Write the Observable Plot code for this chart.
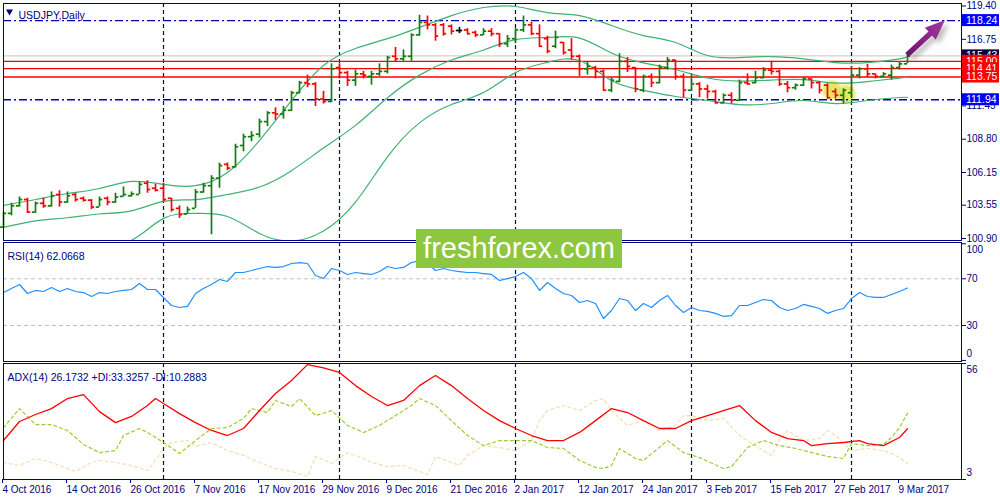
<!DOCTYPE html>
<html><head><meta charset="utf-8">
<script src="https://cdn.jsdelivr.net/npm/d3@7"></script>
<script src="https://cdn.jsdelivr.net/npm/@observablehq/plot@0.6"></script>
<style>
html,body{margin:0;padding:0;background:#fff;}
#wrap{position:relative;width:1000px;height:500px;overflow:hidden;background:#fff;}
#wrap > svg{position:absolute;left:0;}
#wm{position:absolute;left:416px;top:229px;width:206px;height:39px;background:#8dc63f;color:#fff;font:29px "Liberation Sans",Arial,sans-serif;line-height:39px;text-align:center;}
</style></head><body><div id="wrap"></div><script>
// ---------------- data ----------------
const tickIdx = [0,8,16,24,32,40,48,56,64,72,80,88,96,104,112];
const tickLabels = ["4 Oct 2016","14 Oct 2016","26 Oct 2016","7 Nov 2016","17 Nov 2016","29 Nov 2016","9 Dec 2016","21 Dec 2016","2 Jan 2017","12 Jan 2017","24 Jan 2017","3 Feb 2017","15 Feb 2017","27 Feb 2017","9 Mar 2017"];
const monthStartIdx = [20,42,64,86,106];

const opens  = [101.8,102.9,103.5,104.0,103.0,103.7,103.5,104.4,103.8,104.4,104.1,103.95,103.4,104.1,103.8,104.25,104.3,104.4,105.3,104.9,104.9,104.1,103.3,102.85,103.3,104.6,105.1,105.7,106.8,106.6,108.3,109.0,109.2,110.2,110.9,110.8,111.1,112.5,113.3,113.2,112.0,111.8,114.5,114.1,113.5,114.0,113.8,114.0,114.2,115.4,115.2,115.4,117.1,118.1,117.9,117.9,117.8,117.45,117.5,117.3,117.1,117.4,117.2,116.4,116.8,117.5,117.9,117.2,116.8,116.2,116.5,115.9,115.4,114.4,114.5,114.2,112.7,113.4,115.0,114.5,112.7,113.8,113.3,114.5,115.1,113.8,112.7,113.2,112.8,112.6,111.7,112.3,111.9,113.3,113.3,113.7,114.3,114.2,113.2,112.9,113.1,113.6,113.3,113.1,112.6,112.3,112.5,113.9,114.4,114.0,113.8,113.9,114.5,114.8];
const highs  = [103.0,103.7,104.2,104.1,103.8,104.1,104.6,104.7,104.6,104.5,104.2,104.0,104.2,104.2,104.5,105.0,104.6,105.4,105.5,105.2,105.3,104.1,103.5,103.4,104.8,105.3,105.9,106.9,106.9,108.4,109.2,109.4,110.4,111.0,111.3,111.4,112.6,113.4,113.9,113.3,112.6,114.8,114.8,114.2,114.3,114.2,114.2,114.8,115.4,116.1,115.9,117.2,118.66,118.6,118.0,118.0,117.9,117.7,117.6,117.4,117.6,117.6,117.2,117.05,117.6,118.6,118.1,117.9,117.0,117.4,116.5,116.8,115.5,115.0,114.6,114.3,113.7,115.6,115.3,114.5,113.9,114.0,114.7,115.3,115.1,114.0,113.9,113.3,113.1,112.7,112.4,112.5,113.5,114.0,114.2,114.5,115.0,114.3,113.4,113.2,113.7,113.6,113.4,113.2,112.8,112.8,114.6,114.5,114.75,114.0,114.1,114.7,114.9,115.5];
const lows   = [101.7,102.7,103.4,102.9,102.9,103.3,103.4,103.4,103.7,103.8,103.8,103.2,103.4,103.5,103.7,104.2,104.2,104.4,104.5,104.6,103.8,103.0,102.5,102.85,103.3,104.5,101.2,104.9,106.3,106.5,107.8,108.6,108.9,109.8,110.3,110.4,111.0,112.4,112.9,111.4,111.6,111.7,113.6,113.0,113.0,113.6,113.1,113.8,114.0,114.9,115.0,115.0,117.0,117.5,116.6,117.0,117.1,117.2,117.1,116.9,117.05,116.95,116.1,116.1,116.4,117.3,117.05,116.1,115.6,116.0,115.5,115.1,113.8,113.9,113.6,112.6,112.5,113.3,114.1,112.5,112.5,112.9,113.2,114.3,113.5,112.1,112.6,112.1,112.0,111.6,111.6,111.6,111.8,113.1,113.2,113.6,113.9,113.0,112.5,112.7,113.0,112.8,112.4,112.0,112.0,111.6,112.1,113.6,113.7,113.6,113.7,113.5,114.3,114.8];
const closes = [102.9,103.5,104.0,103.0,103.7,103.5,104.3,103.8,104.3,104.0,103.95,103.4,104.0,103.8,104.2,104.4,104.45,105.2,104.8,104.75,104.0,103.2,102.8,103.2,104.6,105.1,105.7,106.7,106.5,108.2,109.0,109.1,110.2,110.9,110.8,111.1,112.5,113.3,113.2,112.0,111.8,114.4,114.1,113.5,114.0,113.9,114.0,114.2,115.3,115.2,115.4,117.1,118.1,117.9,117.0,117.2,117.4,117.45,117.2,117.1,117.4,117.2,116.4,116.8,117.5,117.9,117.2,116.2,115.8,116.9,115.7,115.4,114.4,114.6,114.2,112.7,113.5,115.0,114.6,112.8,113.8,113.3,114.5,115.1,113.8,112.7,113.2,112.8,112.6,111.7,112.3,111.9,113.3,113.2,113.7,114.3,114.2,113.2,112.9,113.1,113.6,113.3,112.7,112.1,112.3,112.7,113.9,114.4,114.0,113.8,114.0,114.5,114.8,115.4];

const bbIdx    = [0,4,8,12,16,20,24,28,32,36,40,44,48,52,56,60,64,68,72,76,80,84,88,92,96,100,104,108,112,113];
const bbUpper  = [103.53,104.0,104.48,104.88,105.44,105.2,105.1,106.15,108.7,111.88,114.67,116.02,116.8,117.7,118.64,119.28,119.36,118.88,118.64,117.85,117.05,116.5,115.46,115.3,115.38,115.2,114.9,114.9,115.2,115.38];
const bbMiddle = [101.78,102.3,102.55,102.85,103.1,103.85,104.0,104.4,105.0,106.3,108.1,109.9,112.1,113.9,115.1,115.9,116.73,116.9,116.85,115.66,114.87,114.35,113.67,113.43,113.51,113.54,113.27,113.39,113.66,113.75];
const bbLower  = [100.03,100.3,100.4,100.5,100.76,102.5,102.9,102.65,101.3,100.7,101.5,103.8,107.4,110.1,111.56,112.52,114.1,114.92,115.06,113.47,112.68,112.2,111.88,111.56,111.64,111.88,111.64,111.88,112.12,112.12];

const rsi = [58.2,61.7,65.1,57.4,60.0,59.1,62.5,59.1,61.7,59.1,58.2,54.8,58.2,57.4,59.1,60.0,60.8,66.0,60.8,60.8,54.0,47.1,45.4,46.3,57.4,61.7,65.1,69.4,67.7,75.4,75.4,77.1,78.8,80.5,79.7,80.5,83.1,83.9,83.1,72.8,70.2,78.8,77.1,73.7,75.4,74.5,73.7,76.2,80.5,78.8,79.7,83.9,85.7,83.1,77.1,78.8,77.1,76.2,75.4,75.4,74.5,73.7,68.5,70.2,71.9,75.4,70.2,60.0,66.8,61.7,57.4,55.7,49.7,51.4,48.8,36.0,42.8,53.1,51.4,42.8,48.8,45.4,51.4,55.7,47.1,41.1,45.4,42.8,42.0,40.3,37.7,38.5,47.1,47.1,49.7,52.2,51.4,45.4,42.8,44.5,48.0,46.3,44.5,40.3,42.8,44.5,53.1,58.2,54.8,54.0,54.0,56.5,59.1,62.07];

const adx = [[0,20.8],[2,29.5],[4,32.7],[6,35.4],[8,40.0],[10,41.8],[12,34.0],[14,29.0],[16,31.8],[18,36.8],[19,40.0],[20,37.7],[22,33.1],[24,29.0],[26,25.4],[28,23.1],[30,26.3],[32,34.5],[34,42.3],[36,48.2],[38,55.5],[40,54.0],[42,51.9],[44,45.9],[46,40.9],[48,36.8],[50,39.1],[52,45.9],[54,50.5],[56,45.9],[58,40.0],[60,34.5],[62,29.9],[64,26.3],[66,23.1],[68,20.8],[70,20.8],[72,24.5],[74,29.9],[76,35.4],[78,33.6],[80,29.9],[82,26.3],[84,26.3],[86,29.9],[88,32.2],[90,34.5],[92,36.8],[94,29.9],[96,24.5],[98,21.7],[100,20.8],[101,18.5],[103,19.4],[105,19.9],[107,20.8],[108,19.4],[110,18.5],[112,22.2],[113,26.17]];
const plusDI = [[0,26.7],[2,35.4],[4,28.1],[6,28.1],[8,25.4],[10,19.0],[12,15.3],[14,16.2],[15,23.1],[17,26.3],[18,24.5],[20,19.9],[22,14.9],[24,20.8],[26,26.3],[28,26.7],[30,30.9],[31,35.4],[33,33.6],[34,39.1],[36,36.3],[37,40.0],[39,32.2],[41,34.5],[43,27.7],[45,24.5],[47,27.7],[49,32.2],[51,36.8],[52,40.0],[54,36.8],[56,29.9],[58,23.1],[60,18.5],[62,20.8],[64,20.8],[66,20.8],[68,17.6],[70,17.2],[72,11.7],[74,8.5],[75,8.0],[76,9.4],[77,17.2],[79,12.6],[80,11.7],[83,20.8],[85,15.3],[87,13.0],[90,8.0],[91,8.9],[93,17.6],[95,20.8],[97,18.5],[99,17.2],[103,13.5],[105,12.6],[106,19.4],[108,18.5],[110,19.0],[111,22.2],[112,26.7],[113,33.33]];
const minusDI = [[0,10.8],[2,9.4],[4,12.6],[6,10.8],[8,8.0],[9,6.7],[11,10.8],[12,11.7],[14,10.8],[16,9.4],[18,7.1],[19,11.7],[20,17.2],[21,19.9],[23,20.8],[24,18.1],[26,19.9],[28,16.2],[30,14.0],[32,10.8],[34,8.0],[36,6.7],[38,4.4],[39,13.5],[41,10.3],[43,15.3],[45,12.6],[46,10.8],[48,8.9],[50,9.4],[53,5.3],[54,13.5],[57,9.4],[58,14.0],[60,18.5],[62,17.6],[64,16.2],[66,20.8],[67,29.9],[68,34.5],[70,36.8],[72,34.5],[74,39.1],[75,40.0],[76,34.5],[78,27.7],[80,29.9],[82,25.4],[84,27.7],[85,32.2],[86,32.2],[88,29.9],[90,30.9],[92,23.1],[94,18.5],[96,14.0],[97,20.8],[98,25.4],[100,20.8],[102,21.7],[103,25.4],[104,23.1],[106,16.2],[108,17.2],[110,16.2],[111,14.9],[112,13.0],[113,10.29]];

const priceTicks = [119.40,116.75,114.10,111.45,108.80,106.15,103.55,100.90];
const redLevels = [115.00,114.41,113.75];
const blueLevels = [118.24,111.94];
const greyLevel = 115.43;
const priceBoxes = [
  {v:115.43, bg:"#000040"},
  {v:115.00, bg:"#ff0000"},
  {v:114.41, bg:"#ff0000"},
  {v:113.75, bg:"#ff0000"},
  {v:118.24, bg:"#0000ff"},
  {v:111.94, bg:"#0000ff"}
];
const titleMain = "USDJPY,Daily";
const titleRSI = "RSI(14) 62.0668";
const titleADX = "ADX(14) 26.1732 +DI:33.3257 -DI:10.2883";
const watermark = "freshforex.com";
// annotations (bar index, price)
const arrowTail = [113.0, 115.46];
const arrowTip  = [117.75, 118.25];
const glows = [[103.6, 112.68],[105.4, 112.36]];

// ---------------- drawing ----------------
const NAVY = "#000080";
const FONT = '"Liberation Sans", Arial, sans-serif';
const UP = "#0f7f0f", DN = "#ff0000";
const xOpt = {domain:[0,119.75], axis:null};
const baseStyle = {background:"transparent", color:NAVY, fontFamily:FONT, fontSize:"10px", overflow:"visible"};

const bars = opens.map((o,i)=>({i, o, h:highs[i], l:lows[i], c:closes[i]}));
const barCol = d => d.c > d.o ? UP : d.c < d.o ? DN : "#000000";
const bb = bbIdx.map((i,k)=>({i, up:bbUpper[k], mid:bbMiddle[k], lo:bbLower[k]}));
const rsiRows = rsi.map((v,i)=>({i, v}));
const toRows = a => a.map(([i,v])=>({i,v}));

const wrap = document.getElementById("wrap");

const main = Plot.plot({
  width:1000, height:242, marginLeft:3, marginRight:39, marginTop:3, marginBottom:2,
  x:xOpt, y:{domain:[100.74,119.60], axis:null},
  style:baseStyle,
  marks:[
    Plot.ruleY([greyLevel], {stroke:"#c8c8c8", strokeWidth:1}),
    Plot.ruleX(monthStartIdx, {stroke:NAVY, strokeDasharray:"4,3", strokeWidth:1.2}),
    Plot.ruleY(blueLevels, {stroke:"#0000b0", strokeDasharray:"8,3,2,3", strokeWidth:1.3}),
    Plot.ruleY(redLevels, {stroke:"#ff0000", strokeWidth:1.3}),
    Plot.line(bb, {x:"i", y:"up", stroke:"#3cb371", strokeWidth:1.2, curve:"natural", clip:true}),
    Plot.line(bb, {x:"i", y:"mid", stroke:"#3cb371", strokeWidth:1.2, curve:"natural", clip:true}),
    Plot.line(bb, {x:"i", y:"lo", stroke:"#3cb371", strokeWidth:1.2, curve:"natural", clip:true}),
    Plot.ruleX(bars, {x:"i", y1:"l", y2:"h", stroke:barCol, strokeWidth:1.7}),
    Plot.ruleY(bars, {x1:d=>d.i-0.4, x2:"i", y:"o", stroke:barCol, strokeWidth:1.7}),
    Plot.ruleY(bars, {x1:"i", x2:d=>d.i+0.4, y:"c", stroke:barCol, strokeWidth:1.7}),
    Plot.frame({stroke:NAVY}),
    Plot.axisY({anchor:"right", label:null, ticks:priceTicks, tickFormat:d=>d.toFixed(2), tickSize:4, tickPadding:1, fill:NAVY, stroke:NAVY}),
    Plot.text([titleMain], {frameAnchor:"top-left", dx:15, dy:8, textAnchor:"start", fill:NAVY, fontSize:10.5}),
    Plot.dot([0], {frameAnchor:"top-left", dx:6, dy:8, symbol:"triangle", rotate:180, r:2.6, fill:NAVY, stroke:null})
  ]
});
main.style.top = "0px";
wrap.appendChild(main);

const rsiPlot = Plot.plot({
  width:1000, height:121, marginLeft:3, marginRight:39, marginTop:1, marginBottom:1,
  x:xOpt, y:{domain:[-0.9,101.1], axis:null},
  style:baseStyle,
  marks:[
    Plot.ruleY([70,30], {stroke:"#c0c0c0", strokeDasharray:"4,3"}),
    Plot.ruleX(monthStartIdx, {stroke:NAVY, strokeDasharray:"4,3", strokeWidth:1.2}),
    Plot.line(rsiRows, {x:"i", y:"v", stroke:"#1e90ff", strokeWidth:1.2}),
    Plot.frame({stroke:NAVY}),
    Plot.axisY({anchor:"right", label:null, ticks:[100,70,30,0], tickFormat:d=>(d===70||d===30)?String(d):"", tickSize:4, tickPadding:1, fill:NAVY, stroke:NAVY}),
    Plot.text([100], {y:d=>d, text:d=>String(d), frameAnchor:"right", dx:5, dy:6, textAnchor:"start", fill:NAVY}),
    Plot.text([0], {y:d=>d, text:d=>String(d), frameAnchor:"right", dx:5, dy:-7, textAnchor:"start", fill:NAVY}),
    Plot.text([titleRSI], {frameAnchor:"top-left", dx:4, dy:10, textAnchor:"start", fill:NAVY, fontSize:10.5})
  ]
});
rsiPlot.style.top = "241px";
wrap.appendChild(rsiPlot);

const adxPlot = Plot.plot({
  width:1000, height:138, marginLeft:3, marginRight:39, marginTop:1, marginBottom:21,
  x:xOpt, y:{domain:[3,56], axis:null},
  style:baseStyle,
  marks:[
    Plot.ruleX(monthStartIdx, {stroke:NAVY, strokeDasharray:"4,3", strokeWidth:1.2}),
    Plot.line(toRows(minusDI), {x:"i", y:"v", stroke:"#f5deb3", strokeWidth:1.2, strokeDasharray:"3,3"}),
    Plot.line(toRows(plusDI), {x:"i", y:"v", stroke:"#9acd32", strokeWidth:1.2, strokeDasharray:"3,3"}),
    Plot.line(toRows(adx), {x:"i", y:"v", stroke:"#ff0000", strokeWidth:1.3}),
    Plot.frame({stroke:NAVY}),
    Plot.axisY({anchor:"right", label:null, ticks:[56,3], tickFormat:()=>"", tickSize:4, stroke:NAVY}),
    Plot.text([56], {y:d=>d, text:d=>String(d), frameAnchor:"right", dx:5, dy:6, textAnchor:"start", fill:NAVY}),
    Plot.text([3], {y:d=>d, text:d=>String(d), frameAnchor:"right", dx:5, dy:-7, textAnchor:"start", fill:NAVY}),
    Plot.axisX({label:null, ticks:tickIdx, tickFormat:d=>tickLabels[tickIdx.indexOf(d)], tickSize:4, tickPadding:2, textAnchor:"start", dx:-1, fill:NAVY, stroke:NAVY}),
    Plot.text([titleADX], {frameAnchor:"top-left", dx:4, dy:10, textAnchor:"start", fill:NAVY, fontSize:10.5})
  ]
});
adxPlot.style.top = "362px";
wrap.appendChild(adxPlot);

// ---------- overlays drawn through the main plot's scales ----------
const sx = main.scale("x"), sy = main.scale("y");
const X = sx.apply ? v=>sx.apply(v) : d3.scaleLinear(sx.domain, sx.range);
const Y = sy.apply ? v=>sy.apply(v) : d3.scaleLinear(sy.domain, sy.range);
const svg = d3.select(main);
const defs = svg.append("defs");
defs.append("filter").attr("id","blur3").append("feGaussianBlur").attr("stdDeviation",2.5);
defs.append("filter").attr("id","blur2").append("feGaussianBlur").attr("stdDeviation",1.8);
const grad = defs.append("linearGradient").attr("id","pg").attr("x1","0").attr("y1","1").attr("x2","1").attr("y2","0");
grad.append("stop").attr("offset","0").attr("stop-color","#6b1070");
grad.append("stop").attr("offset","1").attr("stop-color","#a7379f");

// yellow glow behind bars
const glowG = svg.insert("g", ":first-child");
glows.forEach(([i,p])=>{
  glowG.append("circle").attr("cx",X(i)).attr("cy",Y(p)).attr("r",9.5)
    .attr("fill","#e3e34a").attr("opacity",0.85).attr("filter","url(#blur2)");
});

// price boxes on the right axis
const boxG = svg.append("g").attr("text-anchor","start");
priceBoxes.forEach(b=>{
  const y = Y(b.v);
  boxG.append("rect").attr("x",962).attr("y",y-6).attr("width",37).attr("height",12).attr("fill",b.bg);
  boxG.append("text").attr("x",966).attr("y",y+3.8).attr("fill","#fff").attr("text-anchor","start")
    .attr("font-family",FONT).attr("font-size",10.5).text(b.v.toFixed(2));
});

// purple arrow
function arrowPath(x1,y1,x2,y2){
  const dx=x2-x1, dy=y2-y1, L=Math.hypot(dx,dy), ux=dx/L, uy=dy/L, nx=-uy, ny=ux;
  const hl=20, hw=8, sw=2.6;
  const bx=x2-ux*hl, by=y2-uy*hl;
  const p=[[x1+nx*sw,y1+ny*sw],[bx+nx*sw,by+ny*sw],[bx+nx*hw,by+ny*hw],[x2,y2],[bx-nx*hw,by-ny*hw],[bx-nx*sw,by-ny*sw],[x1-nx*sw,y1-ny*sw]];
  return "M"+p.map(q=>q.join(",")).join("L")+"Z";
}
const ax1=X(arrowTail[0]), ay1=Y(arrowTail[1]), ax2=X(arrowTip[0]), ay2=Y(arrowTip[1]);
svg.append("path").attr("d",arrowPath(ax1+4,ay1+4,ax2+4,ay2+4)).attr("fill","#888").attr("opacity",0.55).attr("filter","url(#blur3)");
svg.append("path").attr("d",arrowPath(ax1,ay1,ax2,ay2)).attr("fill","url(#pg)");

// watermark
const wm = document.createElement("div");
wm.id = "wm"; wm.textContent = watermark;
wrap.appendChild(wm);
</script></body></html>
